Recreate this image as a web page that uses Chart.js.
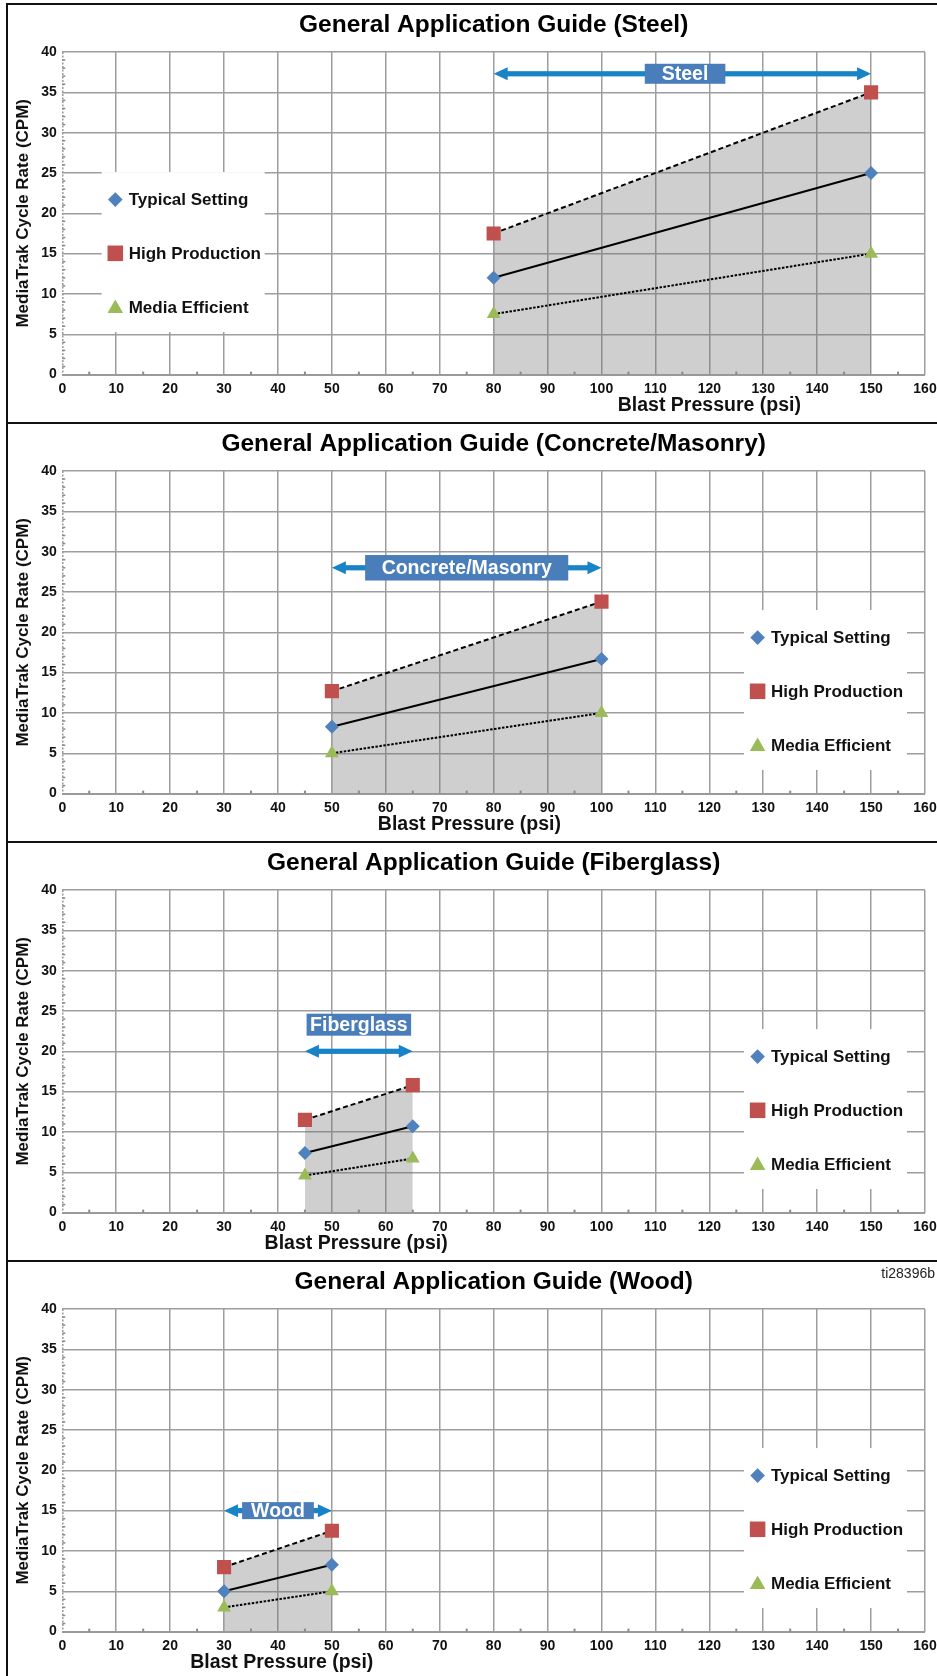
<!DOCTYPE html>
<html>
<head>
<meta charset="utf-8">
<script src="https://cdn.jsdelivr.net/npm/chart.js@4.4.1/dist/chart.umd.min.js"></script>
<style>
  body { margin: 0; background: #fff; width: 937px; height: 1676px; position: relative; overflow: hidden; font-family: "Liberation Sans", Arial, sans-serif; }
  canvas { position: absolute; left: 0; }
  .rule { position: absolute; background: #111; }
  #tag { position: absolute; right: 2px; top: 1265px; font-size: 14px; color: #222; }
</style>
</head>
<body>
<canvas id="steel" width="937" height="416" style="top:4px"></canvas>
<canvas id="concrete" width="937" height="416" style="top:423px"></canvas>
<canvas id="fiberglass" width="937" height="416" style="top:842px"></canvas>
<canvas id="wood" width="937" height="416" style="top:1261px"></canvas>

<div class="rule" style="left:6px;top:3px;width:931px;height:2px"></div>
<div class="rule" style="left:6px;top:422px;width:931px;height:2px"></div>
<div class="rule" style="left:6px;top:841px;width:931px;height:2px"></div>
<div class="rule" style="left:6px;top:1260px;width:931px;height:2px"></div>
<div class="rule" style="left:6px;top:3px;width:2px;height:1673px"></div>
<div id="tag">ti28396b</div>

<script>
// blast pressure (psi) at both ends of each range, and cycle rate (CPM) for each setting
const steelPsi = [80, 150];
const steelTypical = [12, 25];
const steelHigh = [17.5, 35];
const steelEfficient = [7.5, 15];

const concretePsi = [50, 100];
const concreteTypical = [8.3, 16.7];
const concreteHigh = [12.7, 23.8];
const concreteEfficient = [5, 10];

const fiberglassPsi = [45, 65];
const fiberglassTypical = [7.4, 10.7];
const fiberglassHigh = [11.5, 15.8];
const fiberglassEfficient = [4.6, 6.7];

const woodPsi = [30, 50];
const woodTypical = [5, 8.3];
const woodHigh = [8, 12.5];
const woodEfficient = [3, 5];

const seriesNames = ['Typical Setting', 'High Production', 'Media Efficient'];
const xMax = 160, xStep = 10;
const yMax = 40, yStep = 5;

const FONT = '"Liberation Sans", Arial, Helvetica, sans-serif';
const BLUE = '#4f81bd', RED = '#c0504d', GREEN = '#9bbb59';
const GRID = '#9e9e9e';
const ARROW = '#1883c6', BOX = '#4a7ebb';

Chart.defaults.font.family = FONT;
Chart.defaults.font.weight = 'bold';
Chart.defaults.color = '#111';

// per panel: title, data, the range arrow + label and where the legend box sits
const panels = [
  { id: 'steel', title: 'General Application Guide (Steel)',
    psi: steelPsi, typical: steelTypical, high: steelHigh, efficient: steelEfficient,
    band: { y: 37.3, text: 'Steel', lx: 115.5, ly: 37.3, padX: 17, h: 20 },
    legend: { left: 39.4, top: 147.6 }, xTitleAt: 120 },
  { id: 'concrete', title: 'General Application Guide (Concrete/Masonry)',
    psi: concretePsi, typical: concreteTypical, high: concreteHigh, efficient: concreteEfficient,
    band: { y: 28, text: 'Concrete/Masonry', lx: 75, ly: 28, padX: 16.5, h: 25.5 },
    legend: { left: 681.7, top: 166.6 }, xTitleAt: 75.5 },
  { id: 'fiberglass', title: 'General Application Guide (Fiberglass)',
    psi: fiberglassPsi, typical: fiberglassTypical, high: fiberglassHigh, efficient: fiberglassEfficient,
    band: { y: 20, text: 'Fiberglass', lx: 55, ly: 23.3, padX: 3.5, h: 22 },
    legend: { left: 681.7, top: 166.6 }, xTitleAt: 54.5 },
  { id: 'wood', title: 'General Application Guide (Wood)',
    psi: woodPsi, typical: woodTypical, high: woodHigh, efficient: woodEfficient,
    band: { y: 15, text: 'Wood', lx: 40, ly: 15, padX: 9, h: 17 },
    legend: { left: 681.7, top: 166.6 }, xTitleAt: 40.7 }
];

function marker(ctx, style, x, y, r, color) {
  ctx.fillStyle = color;
  ctx.beginPath();
  if (style === 'rectRot') {
    ctx.moveTo(x, y - r); ctx.lineTo(x + r, y); ctx.lineTo(x, y + r); ctx.lineTo(x - r, y);
  } else if (style === 'rect') {
    const s = r * Math.SQRT1_2;
    ctx.rect(x - s, y - s, 2 * s, 2 * s);
  } else {
    ctx.moveTo(x, y - r); ctx.lineTo(x + r * 0.866, y + r / 2); ctx.lineTo(x - r * 0.866, y + r / 2);
  }
  ctx.closePath();
  ctx.fill();
}

function decor(p) {
  return {
    id: 'decor',
    beforeDatasetsDraw(chart) {
      const ctx = chart.ctx, a = chart.chartArea;
      const xs = chart.scales.x, ys = chart.scales.y;
      ctx.save();
      // dotted left axis with minor ticks
      ctx.strokeStyle = '#9a9a9a';
      ctx.lineWidth = 1.5;
      ctx.setLineDash([2, 1.5]);
      ctx.beginPath();
      ctx.moveTo(a.left + 0.5, a.top);
      ctx.lineTo(a.left + 0.5, a.bottom);
      ctx.stroke();
      ctx.setLineDash([]);
      ctx.fillStyle = '#8a8a8a';
      for (let v = 5; v < xMax; v += 10) {
        ctx.fillRect(xs.getPixelForValue(v) - 1, a.bottom - 3, 2, 3);
      }
      for (let v = 1; v < yMax; v++) {
        if (v % yStep === 0) continue;
        ctx.fillRect(a.left, ys.getPixelForValue(v) - 0.75, 3, 1.5);
      }
      // legend box
      const L = p.legend, lx = a.left + L.left, ly = a.top + L.top, gap = 53.7;
      ctx.fillStyle = '#fff';
      ctx.fillRect(lx, ly - 27.5, 163, gap * 2 + 52.5);
      const styles = ['rectRot', 'rect', 'triangle'];
      const colors = [BLUE, RED, GREEN];
      const sizes = [7.3, 11, 9];
      ctx.font = 'bold 17px ' + FONT;
      ctx.textBaseline = 'middle';
      ctx.textAlign = 'left';
      chart.data.datasets.forEach((ds, i) => {
        const y = ly + i * gap;
        marker(ctx, styles[i], lx + 13.6, i === 2 ? y + 1.5 : y, sizes[i], colors[i]);
        ctx.fillStyle = '#111';
        ctx.fillText(ds.label, lx + 27, y + 1);
      });
      ctx.restore();
    },
    afterDatasetsDraw(chart) {
      const ctx = chart.ctx, xs = chart.scales.x, ys = chart.scales.y, b = p.band;
      const x1 = xs.getPixelForValue(p.psi[0]), x2 = xs.getPixelForValue(p.psi[1]);
      const y = ys.getPixelForValue(b.y);
      const head = 14, half = 6.5;
      ctx.save();
      ctx.fillStyle = ARROW;
      ctx.fillRect(x1 + head - 1, y - 2.6, x2 - x1 - 2 * head + 2, 5.2);
      ctx.beginPath();
      ctx.moveTo(x1, y); ctx.lineTo(x1 + head, y - half); ctx.lineTo(x1 + head, y + half); ctx.closePath();
      ctx.moveTo(x2, y); ctx.lineTo(x2 - head, y - half); ctx.lineTo(x2 - head, y + half); ctx.closePath();
      ctx.fill();
      ctx.font = 'bold 19.5px ' + FONT;
      const tw = ctx.measureText(b.text).width;
      const cx = xs.getPixelForValue(b.lx), cy = ys.getPixelForValue(b.ly);
      const w = tw + 2 * b.padX;
      ctx.fillStyle = BOX;
      ctx.fillRect(cx - w / 2, cy - b.h / 2, w, b.h);
      ctx.fillStyle = '#fff';
      ctx.textAlign = 'center';
      ctx.textBaseline = 'middle';
      ctx.fillText(b.text, cx, cy + 1);
      ctx.restore();
    },
    afterDraw(chart) {
      const ctx = chart.ctx, a = chart.chartArea;
      ctx.save();
      ctx.font = 'bold 19.5px ' + FONT;
      ctx.fillStyle = '#111';
      ctx.textAlign = 'center';
      ctx.textBaseline = 'middle';
      ctx.fillText('Blast Pressure (psi)', chart.scales.x.getPixelForValue(p.xTitleAt), a.bottom + 31);
      ctx.restore();
    }
  };
}

function points(psi, vals) {
  return psi.map((x, i) => ({ x: x, y: vals[i] }));
}

panels.forEach(p => {
  new Chart(document.getElementById(p.id), {
    type: 'line',
    data: {
      datasets: [
        { label: seriesNames[0], data: points(p.psi, p.typical),
          borderColor: '#000', borderWidth: 2, fill: false,
          pointStyle: 'rectRot', pointRadius: 7, pointBorderWidth: 0,
          pointBackgroundColor: BLUE, pointBorderColor: BLUE },
        { label: seriesNames[1], data: points(p.psi, p.high),
          borderColor: '#000', borderWidth: 2, borderDash: [5, 3],
          fill: 'origin', backgroundColor: 'rgba(110,110,110,0.33)',
          pointStyle: 'rect', pointRadius: 10, pointBorderWidth: 0,
          pointBackgroundColor: RED, pointBorderColor: RED },
        { label: seriesNames[2], data: points(p.psi, p.efficient),
          borderColor: '#000', borderWidth: 2, borderDash: [2.5, 1.5], fill: false,
          pointStyle: 'triangle', pointRadius: 8, pointBorderWidth: 0,
          pointBackgroundColor: GREEN, pointBorderColor: GREEN }
      ]
    },
    options: {
      responsive: false,
      animation: false,
      layout: { padding: { left: 0, right: 12, top: 0, bottom: 0 } },
      plugins: {
        legend: { display: false },
        tooltip: { enabled: false },
        filler: { drawTime: 'beforeDatasetsDraw' },
        title: { display: true, text: p.title, fullSize: false,
                 font: { size: 24.5, weight: 'bold' }, color: '#000',
                 padding: { top: 7, bottom: 11.6 } }
      },
      scales: {
        x: {
          type: 'linear', min: 0, max: xMax,
          ticks: { stepSize: xStep, padding: 6.6, font: { size: 14, weight: 'bold' }, maxRotation: 0, autoSkip: false },
          grid: { color: c => c.tick.value === 0 ? 'rgba(0,0,0,0)' : GRID, lineWidth: 1.5, drawTicks: false },
          border: { display: false },
          afterFit(s) { s.height = 45.4; s.paddingLeft = 0; s.paddingRight = 0; }
        },
        y: {
          min: 0, max: yMax,
          ticks: { stepSize: yStep, padding: 5.5, font: { size: 14, weight: 'bold' } },
          grid: { color: c => c.tick.value === 0 ? '#9a9a9a' : GRID, lineWidth: c => c.tick.value === 0 ? 2 : 1.5, drawTicks: false },
          border: { display: false },
          title: { display: true, text: 'MediaTrak Cycle Rate (CPM)', font: { size: 17, weight: 'bold' }, color: '#111', padding: { top: 12.8, bottom: 0 } },
          afterFit(s) { s.width = 62.3; s.paddingTop = 0; s.paddingBottom = 0; }
        }
      }
    },
    plugins: [decor(p)]
  });
});
</script>
</body>
</html>
